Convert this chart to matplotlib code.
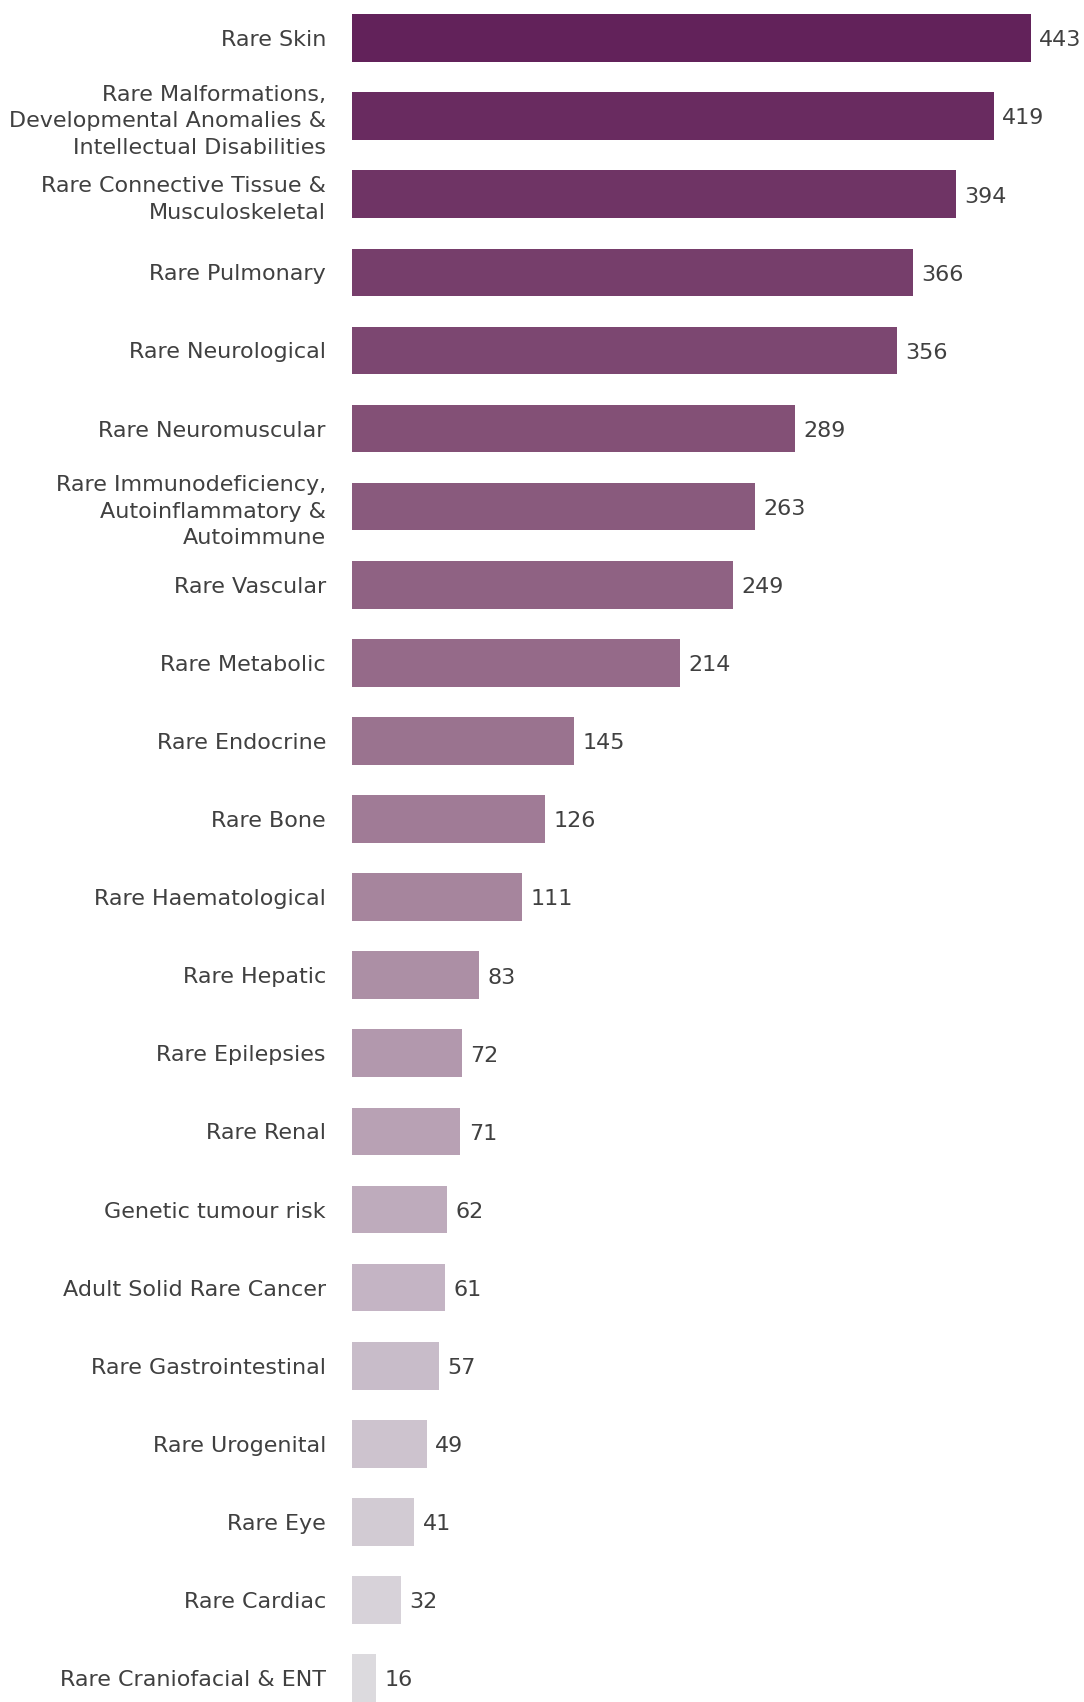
import matplotlib.pyplot as plt
from matplotlib.colors import LinearSegmentedColormap
import numpy as np

# categories, top to bottom
categories = [
    "Rare Skin",
    "Rare Malformations,\nDevelopmental Anomalies &\nIntellectual Disabilities",
    "Rare Connective Tissue &\nMusculoskeletal",
    "Rare Pulmonary",
    "Rare Neurological",
    "Rare Neuromuscular",
    "Rare Immunodeficiency,\nAutoinflammatory &\nAutoimmune",
    "Rare Vascular",
    "Rare Metabolic",
    "Rare Endocrine",
    "Rare Bone",
    "Rare Haematological",
    "Rare Hepatic",
    "Rare Epilepsies",
    "Rare Renal",
    "Genetic tumour risk",
    "Adult Solid Rare Cancer",
    "Rare Gastrointestinal",
    "Rare Urogenital",
    "Rare Eye",
    "Rare Cardiac",
    "Rare Craniofacial & ENT",
]
counts = [443, 419, 394, 366, 356, 289, 263, 249, 214, 145, 126, 111,
          83, 72, 71, 62, 61, 57, 49, 41, 32, 16]

TEXT = "#404040"
cmap = LinearSegmentedColormap.from_list(
    "plum", ["#62225A", "#855378", "#A38099", "#C2B2C2", "#DCDADE"])
n = len(counts)
colors = [cmap(i / (n - 1)) for i in range(n)]

fig = plt.figure(figsize=(10.84, 17.02), dpi=100)
ax = fig.add_axes([0.3244, 0.0, 0.6756, 1.0])

y = np.arange(n)
ax.barh(y, counts, height=0.61, color=colors, edgecolor="none")

for yi, v in zip(y, counts):
    ax.text(v + 5.5, yi + 0.03, str(v), va="center", ha="left",
            fontsize=16, color=TEXT)

ax.set_yticks(y)
ax.set_yticklabels(categories, fontsize=16, color=TEXT, linespacing=1.4)
ax.tick_params(axis="y", length=0, pad=18.5)
ax.set_xticks([])
ax.set_xlim(0, 477.8)
ax.set_ylim(21.306, -0.487)
for s in ax.spines.values():
    s.set_visible(False)

fig.savefig("out.png", dpi=100)
